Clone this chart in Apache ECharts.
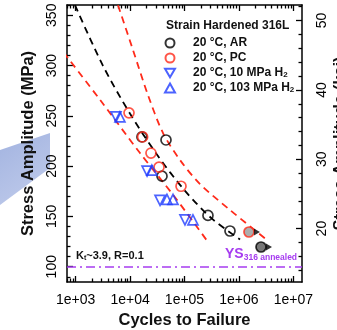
<!DOCTYPE html>
<html>
<head>
<meta charset="utf-8">
<script src="https://cdn.jsdelivr.net/npm/echarts@6/dist/echarts.min.js"></script>
<style>
  html, body { margin: 0; padding: 0; background: #fff; }
  #chart { width: 337px; height: 330px; }
</style>
</head>
<body>
<div id="chart"></div>
<script>
// cycles to failure and stress amplitude (MPa)
const arCycles = [16500, 45700, 38600, 270000, 686000, 2550000];
const arStress = [229, 226, 190, 151, 135.5, 119.6];
const pcCycles = [9550, 17000, 24200, 34000, 86300, 1530000];
const pcStress = [253, 229, 213, 199, 180, 134.5];
const h10Cycles = [5500, 20500, 35500, 102000];
const h10Stress = [249, 195, 166, 146.5];
const h103Cycles = [6500, 25100, 47600, 61500, 143000];
const h103Stress = [249, 196, 167, 167, 146.5];

// runouts (last point of AR and PC)
const runoutCycles = [2550000, 1530000];
const runoutStress = [119.6, 134.5];

// dashed curves: fit and bounds
const fitCycles = [970, 3160, 10000, 31600, 100000, 316000, 1050000];
const fitStress = [360, 300, 252, 211, 176, 148, 127];
const lowerCycles = [600, 2800, 15200, 66800, 270000];
const lowerStress = [313, 266, 213, 169, 124.6];
const upperCycles = [6000, 11300, 21300, 40300, 82600, 192800, 685500, 3280000];
const upperStress = [360, 315.5, 270.7, 232.9, 206.1, 182.2, 156.4, 126.6];

const ysAnnealed = 100;

const xTickLabels = ['1e+03', '1e+04', '1e+05', '1e+06', '1e+07'];
const yTicks = [100, 150, 200, 250, 300, 350];
const ksiTicks = [20, 30, 40, 50];

const MPA_PER_KSI = 6.894757;
const xMin = 2.84, xMax = 7.16;
const yMin = 84.8, yMax = 360.2;
const FONT = '"Liberation Sans", Arial, sans-serif';

const RED = '#ff2a1a';
const BLUE = '#1f3cff';
const PURPLE = '#a63cf0';
const TRI_DOWN = 'path://M0,0L20,0L10,17.3Z';
const ARROW_RIGHT = 'path://M0,0L10,5L0,10Z';

const pts = (xs, ys) => xs.map((c, i) => [Math.log10(c), ys[i]]);

const xMajor = [3, 4, 5, 6, 7];
const xMinor = [];
for (let k = 2; k <= 7; k++) {
  for (let m = 2; m <= 9; m++) {
    const v = Math.log10(m * Math.pow(10, k));
    if (v > xMin && v < xMax) xMinor.push(v);
  }
}
const yMinor = [];
for (let v = 90; v <= 360; v += 10) if (v % 50 !== 0) yMinor.push(v);
const ksiMinor = [];
for (let v = 14; v <= 52; v += 2) if (v % 10 !== 0) ksiMinor.push(v);

const tickStyle = { color: '#000', width: 1.3 };

function xAxisDef(position, ticks, len, withLabels) {
  return {
    type: 'value', position, min: xMin, max: xMax,
    axisLine: { show: withLabels !== null, lineStyle: { color: '#000', width: 1.5 } },
    axisTick: { show: true, inside: true, length: len, customValues: ticks, lineStyle: tickStyle },
    axisLabel: withLabels ? {
      customValues: xMajor,
      formatter: v => xTickLabels[Math.round(v) - 3],
      fontSize: 14, color: '#000', margin: 11, fontFamily: FONT
    } : { show: false },
    splitLine: { show: false }
  };
}

function yAxisDef(position, min, max, ticks, len, labels, margin) {
  return {
    type: 'value', position, min, max,
    axisLine: { show: labels !== null, lineStyle: { color: '#000', width: 1.5 } },
    axisTick: { show: true, inside: true, length: len, customValues: ticks, lineStyle: tickStyle },
    axisLabel: labels ? {
      customValues: labels, rotate: 90,
      fontSize: 14, color: '#000', margin: margin, fontFamily: FONT
    } : { show: false },
    splitLine: { show: false }
  };
}

const xAxes = [
  xAxisDef('bottom', xMajor, 6, true),
  xAxisDef('bottom', xMinor, 3.5, null),
  xAxisDef('top', xMajor, 6, false),
  xAxisDef('top', xMinor, 3.5, null)
];
Object.assign(xAxes[0], {
  name: 'Cycles to Failure', nameLocation: 'middle', nameGap: 29,
  nameTextStyle: { fontSize: 16.5, fontWeight: 'bold', color: '#111', fontFamily: FONT }
});

const yAxes = [
  yAxisDef('left', yMin, yMax, yTicks, 6, yTicks, 8),
  yAxisDef('left', yMin, yMax, yMinor, 3.5, null),
  yAxisDef('right', yMin / MPA_PER_KSI, yMax / MPA_PER_KSI, ksiTicks, 6, ksiTicks, 13),
  yAxisDef('right', yMin / MPA_PER_KSI, yMax / MPA_PER_KSI, ksiMinor, 3.5, null)
];
Object.assign(yAxes[0], {
  name: 'Stress Amplitude (MPa)', nameLocation: 'middle', nameGap: 29,
  nameTextStyle: { fontSize: 16.5, fontWeight: 'bold', color: '#111', fontFamily: FONT }
});
Object.assign(yAxes[2], {
  name: 'Stress Amplitude (ksi)', nameLocation: 'middle', nameGap: 30, nameRotate: 90,
  nameMoveOverlap: false,
  nameTextStyle: { fontSize: 16.5, fontWeight: 'bold', color: '#111', fontFamily: FONT }
});

function dashed(name, data, color) {
  return {
    name, type: 'line', data, smooth: 0.3, symbol: 'none', z: 2,
    lineStyle: { color, width: 1.8, type: [7, 5] }, silent: true
  };
}

function markers(name, data, symbol, color) {
  return {
    name, type: 'scatter', data, symbol, symbolSize: 10, z: 4,
    itemStyle: { color: 'rgba(255,255,255,0)', borderColor: color, borderWidth: 1.7 }
  };
}

const arData = pts(arCycles, arStress).map((p, i) =>
  i === arCycles.length - 1 ? { value: p, itemStyle: { color: '#555' } } : p);
const pcData = pts(pcCycles, pcStress).map((p, i) =>
  i === pcCycles.length - 1 ? { value: p, itemStyle: { color: '#999' } } : p);

const names = ['20 °C, AR', '20 °C, PC', '20 °C, 10 MPa H2', '20 °C, 103 MPa H2'];

const option = {
  animation: false,
  textStyle: { fontFamily: FONT },
  grid: { left: 67, right: 35, top: 5, bottom: 48, outerBoundsMode: 'none', containLabel: false },
  title: {
    text: 'Strain Hardened 316L', left: 166, top: 20, padding: 0,
    textStyle: { fontSize: 12, fontWeight: 'bold', color: '#111', fontFamily: FONT }
  },
  legend: {
    data: names, orient: 'vertical', left: 164, top: 37, padding: 0,
    itemWidth: 10, itemHeight: 9, itemGap: 3,
    textStyle: {
      fontSize: 12, fontWeight: 'bold', color: '#111', fontFamily: FONT, lineHeight: 12,
      padding: [0, 0, 0, 13],
      rich: { sub: { fontSize: 8, fontWeight: 'bold', color: '#111', lineHeight: 12, verticalAlign: 'bottom' } }
    },
    formatter: n => n.replace(/H2$/, 'H{sub|2}')
  },
  xAxis: xAxes,
  yAxis: yAxes,
  graphic: [
    {
      type: 'polygon', z: -10,
      shape: { points: [[0, 150], [50, 133], [50, 168], [0, 205]] },
      style: {
        fill: new echarts.graphic.LinearGradient(0, 0, 1, 1, [
          { offset: 0, color: '#a2b3e0' }, { offset: 1, color: '#c2cdec' }
        ])
      }
    },
    {
      type: 'text', left: 76, top: 250, z: 10,
      style: {
        text: 'K{s|t}~3.9, R=0.1',
        font: 'bold 11px ' + FONT, fill: '#111',
        rich: { s: { fontSize: 7, fontWeight: 'bold', padding: [5, 0, 0, 0] } }
      }
    },
    {
      type: 'text', left: 225, top: 247, z: 10,
      style: {
        text: 'YS{s|316 annealed}',
        font: 'bold 14px ' + FONT, fill: PURPLE,
        rich: { s: { fontSize: 8.5, fontWeight: 'bold', fill: PURPLE, padding: [7, 0, 0, 0] } }
      }
    }
  ],
  series: [
    dashed('fit', pts(fitCycles, fitStress), '#000'),
    dashed('lower', pts(lowerCycles, lowerStress), RED),
    dashed('upper', pts(upperCycles, upperStress), RED),
    {
      name: 'ys', type: 'line', data: [], silent: true,
      markLine: {
        silent: true, symbol: 'none', label: { show: false },
        lineStyle: { color: PURPLE, width: 1.6, type: [9, 4, 2, 4] },
        data: [{ yAxis: ysAnnealed }]
      }
    },
    markers(names[0], arData, 'circle', '#000'),
    markers(names[1], pcData, 'circle', RED),
    markers(names[2], pts(h10Cycles, h10Stress), TRI_DOWN, BLUE),
    markers(names[3], pts(h103Cycles, h103Stress), 'triangle', BLUE),
    {
      name: 'runout', type: 'scatter', data: pts(runoutCycles, runoutStress), z: 5,
      symbol: ARROW_RIGHT, symbolSize: [6, 7], symbolOffset: [8, 0],
      itemStyle: { color: '#000' }
    }
  ]
};

const chart = echarts.init(document.getElementById('chart'));
chart.setOption(option);
</script>
</body>
</html>
